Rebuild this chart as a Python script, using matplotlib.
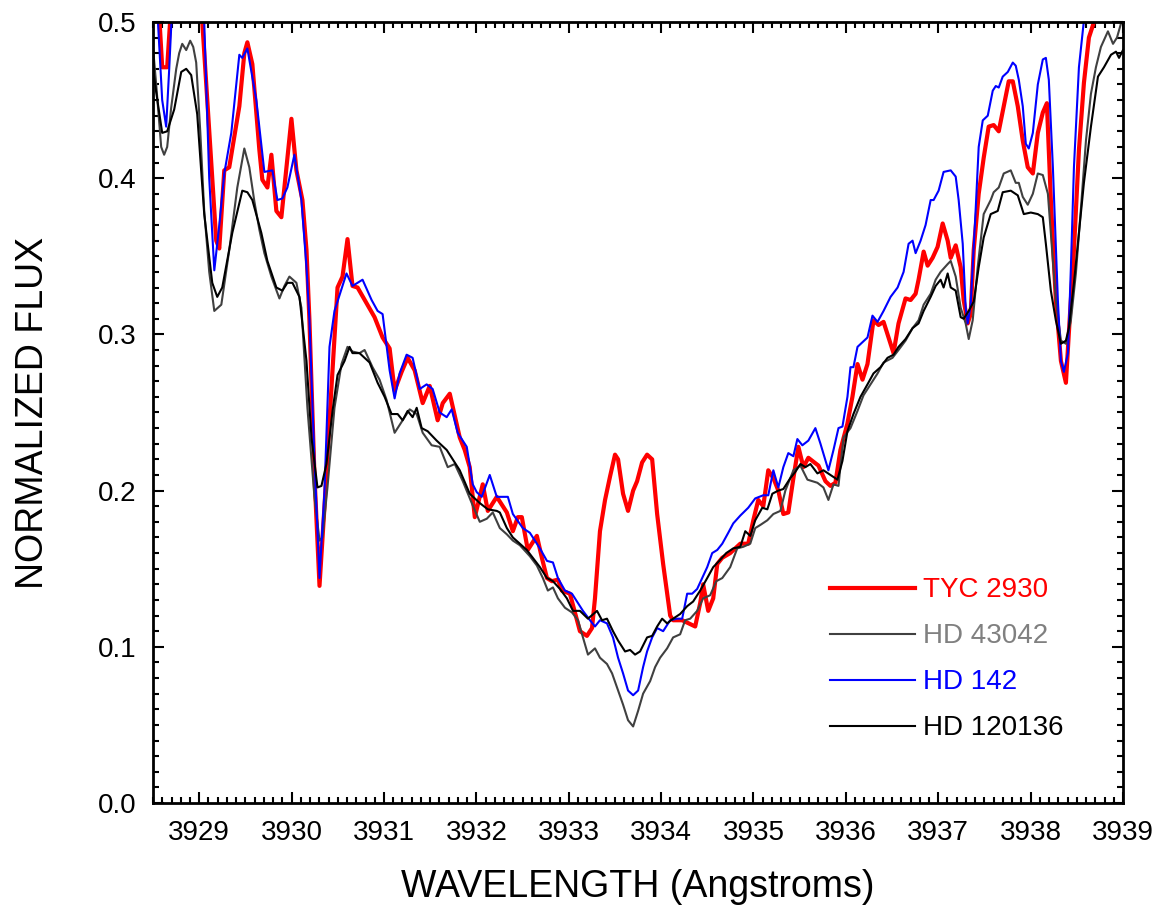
import matplotlib
matplotlib.use("Agg")
import matplotlib.pyplot as plt
from matplotlib.ticker import MultipleLocator, FormatStrFormatter

plt.rcParams["font.family"] = ["Liberation Sans", "DejaVu Sans"]

# TYC 2930 (red)
wl_tyc = [3928.490, 3928.566, 3928.599, 3928.653, 3928.696, 3928.740, 3928.837, 3929.000, 3929.033,
          3929.184, 3929.217, 3929.271, 3929.325, 3929.434, 3929.488, 3929.521, 3929.575, 3929.651,
          3929.683, 3929.738, 3929.781, 3929.835, 3929.889, 3929.944, 3929.998, 3930.052, 3930.117,
          3930.161, 3930.193, 3930.247, 3930.302, 3930.356, 3930.410, 3930.497, 3930.551, 3930.605,
          3930.659, 3930.714, 3930.811, 3930.898, 3930.985, 3931.061, 3931.115, 3931.191, 3931.256,
          3931.332, 3931.419, 3931.495, 3931.581, 3931.636, 3931.712, 3931.820, 3931.874, 3931.928,
          3931.983, 3932.069, 3932.124, 3932.221, 3932.330, 3932.395, 3932.449, 3932.492, 3932.557,
          3932.655, 3932.709, 3932.764, 3932.818, 3932.883, 3932.926, 3933.013, 3933.121, 3933.197,
          3933.252, 3933.284, 3933.338, 3933.393, 3933.447, 3933.501, 3933.534, 3933.588, 3933.642,
          3933.697, 3933.740, 3933.794, 3933.848, 3933.903, 3933.957, 3934.022, 3934.098, 3934.130,
          3934.228, 3934.369, 3934.423, 3934.455, 3934.510, 3934.564, 3934.608, 3934.662, 3934.748,
          3934.857, 3934.943, 3934.998, 3935.052, 3935.106, 3935.160, 3935.215, 3935.269, 3935.323,
          3935.377, 3935.432, 3935.486, 3935.540, 3935.594, 3935.703, 3935.779, 3935.833, 3935.887,
          3935.941, 3936.017, 3936.071, 3936.126, 3936.180, 3936.234, 3936.299, 3936.354, 3936.408,
          3936.462, 3936.516, 3936.570, 3936.646, 3936.701, 3936.755, 3936.787, 3936.842, 3936.885,
          3936.939, 3936.993, 3937.048, 3937.102, 3937.135, 3937.189, 3937.243, 3937.275, 3937.319,
          3937.351, 3937.384, 3937.438, 3937.492, 3937.546, 3937.600, 3937.655, 3937.709, 3937.763,
          3937.807, 3937.861, 3937.915, 3937.969, 3938.024, 3938.078, 3938.132, 3938.176, 3938.219,
          3938.273, 3938.328, 3938.382, 3938.414, 3938.469, 3938.523, 3938.577, 3938.631, 3938.686,
          3938.761, 3938.870, 3939.011]
fx_tyc = [0.56, 0.505, 0.471, 0.471, 0.51, 0.56, 0.58, 0.54, 0.50,
          0.360, 0.355, 0.405, 0.407, 0.446, 0.480, 0.487, 0.473, 0.418,
          0.399, 0.394, 0.415, 0.379, 0.375, 0.407, 0.438, 0.405, 0.386,
          0.354, 0.309, 0.210, 0.139, 0.190, 0.245, 0.330, 0.337, 0.361,
          0.331, 0.330, 0.320, 0.311, 0.298, 0.291, 0.264, 0.276, 0.285,
          0.277, 0.256, 0.267, 0.245, 0.256, 0.262, 0.234, 0.226, 0.215,
          0.183, 0.204, 0.187, 0.196, 0.186, 0.174, 0.183, 0.183, 0.162,
          0.171, 0.157, 0.144, 0.142, 0.143, 0.136, 0.134, 0.110, 0.107,
          0.112, 0.131, 0.174, 0.194, 0.209, 0.223, 0.220, 0.198, 0.187,
          0.200, 0.206, 0.218, 0.223, 0.220, 0.185, 0.153, 0.120, 0.117,
          0.117, 0.113, 0.128, 0.140, 0.123, 0.131, 0.153, 0.157, 0.160,
          0.166, 0.166, 0.181, 0.194, 0.190, 0.213, 0.208, 0.200, 0.185,
          0.186, 0.208, 0.228, 0.215, 0.221, 0.216, 0.206, 0.203, 0.205,
          0.226, 0.243, 0.260, 0.281, 0.271, 0.281, 0.309, 0.306, 0.308,
          0.298, 0.288, 0.307, 0.323, 0.322, 0.326, 0.335, 0.353, 0.344,
          0.349, 0.356, 0.371, 0.360, 0.349, 0.357, 0.343, 0.322, 0.307,
          0.313, 0.354, 0.390, 0.413, 0.433, 0.434, 0.430, 0.446, 0.462,
          0.462, 0.446, 0.424, 0.407, 0.403, 0.429, 0.442, 0.448, 0.386,
          0.322, 0.283, 0.269, 0.301, 0.354, 0.418, 0.461, 0.490, 0.500,
          0.53, 0.56, 0.58]

# HD 43042 (grey)
wl_hd43042 = [3928.490, 3928.534, 3928.588, 3928.620, 3928.653, 3928.696, 3928.751, 3928.783, 3928.816,
              3928.859, 3928.902, 3928.935, 3928.967, 3929.011, 3929.054, 3929.108, 3929.163, 3929.239,
              3929.325, 3929.412, 3929.488, 3929.542, 3929.597, 3929.651, 3929.705, 3929.781, 3929.868,
              3929.922, 3929.976, 3930.052, 3930.106, 3930.171, 3930.247, 3930.302, 3930.334, 3930.388,
              3930.464, 3930.540, 3930.605, 3930.659, 3930.735, 3930.790, 3930.876, 3930.952, 3931.028,
              3931.115, 3931.202, 3931.278, 3931.354, 3931.419, 3931.516, 3931.603, 3931.690, 3931.766,
              3931.853, 3931.950, 3932.037, 3932.113, 3932.178, 3932.254, 3932.330, 3932.395, 3932.471,
              3932.579, 3932.655, 3932.720, 3932.774, 3932.829, 3932.883, 3932.959, 3933.035, 3933.100,
              3933.154, 3933.208, 3933.284, 3933.338, 3933.414, 3933.469, 3933.523, 3933.588, 3933.642,
              3933.697, 3933.751, 3933.805, 3933.881, 3933.935, 3933.989, 3934.065, 3934.130, 3934.206,
              3934.260, 3934.315, 3934.390, 3934.455, 3934.531, 3934.597, 3934.662, 3934.748, 3934.824,
              3934.889, 3934.965, 3935.019, 3935.074, 3935.150, 3935.215, 3935.291, 3935.345, 3935.432,
              3935.508, 3935.584, 3935.692, 3935.757, 3935.811, 3935.866, 3935.920, 3935.974, 3936.050,
              3936.126, 3936.191, 3936.267, 3936.343, 3936.408, 3936.505, 3936.570, 3936.646, 3936.722,
              3936.787, 3936.842, 3936.918, 3936.972, 3937.026, 3937.102, 3937.135, 3937.189, 3937.243,
              3937.297, 3937.330, 3937.373, 3937.427, 3937.492, 3937.568, 3937.600, 3937.655, 3937.709,
              3937.785, 3937.839, 3937.872, 3937.915, 3937.969, 3938.024, 3938.078, 3938.132, 3938.187,
              3938.219, 3938.273, 3938.328, 3938.382, 3938.436, 3938.490, 3938.545, 3938.599, 3938.653,
              3938.707, 3938.761, 3938.837, 3938.892, 3938.935, 3938.978, 3939.011]
fx_hd43042 = [0.490, 0.460, 0.420, 0.415, 0.420, 0.445, 0.470, 0.480, 0.486,
              0.482, 0.488, 0.484, 0.474, 0.430, 0.379, 0.340, 0.315, 0.319,
              0.354, 0.394, 0.419, 0.407, 0.385, 0.367, 0.352, 0.337, 0.323,
              0.331, 0.337, 0.333, 0.317, 0.253, 0.196, 0.168, 0.170, 0.202,
              0.253, 0.281, 0.292, 0.289, 0.288, 0.290, 0.279, 0.271, 0.258,
              0.237, 0.245, 0.252, 0.249, 0.237, 0.229, 0.228, 0.215, 0.217,
              0.206, 0.192, 0.180, 0.182, 0.186, 0.176, 0.172, 0.168, 0.165,
              0.158, 0.152, 0.144, 0.136, 0.138, 0.131, 0.125, 0.122, 0.117,
              0.106, 0.095, 0.099, 0.093, 0.089, 0.083, 0.074, 0.063, 0.053,
              0.049, 0.059, 0.070, 0.078, 0.087, 0.093, 0.099, 0.106, 0.108,
              0.117, 0.118, 0.123, 0.131, 0.133, 0.142, 0.144, 0.151, 0.163,
              0.164, 0.166, 0.176, 0.178, 0.181, 0.185, 0.187, 0.200, 0.213,
              0.216, 0.207, 0.205, 0.202, 0.194, 0.204, 0.203, 0.234, 0.240,
              0.251, 0.261, 0.268, 0.275, 0.282, 0.285, 0.290, 0.296, 0.304,
              0.309, 0.319, 0.326, 0.335, 0.340, 0.345, 0.347, 0.337, 0.317,
              0.307, 0.297, 0.309, 0.343, 0.377, 0.386, 0.391, 0.394, 0.403,
              0.405, 0.397, 0.397, 0.388, 0.383, 0.390, 0.403, 0.402, 0.390,
              0.365, 0.322, 0.296, 0.294, 0.309, 0.339, 0.381, 0.424, 0.454,
              0.471, 0.484, 0.494, 0.486, 0.490, 0.499, 0.500]

# HD 142 (blue)
wl_hd142 = [3928.490, 3928.544, 3928.599, 3928.642, 3928.675, 3928.707, 3928.761, 3928.892, 3929.033,
            3929.054, 3929.108, 3929.163, 3929.217, 3929.271, 3929.347, 3929.434, 3929.466, 3929.521,
            3929.618, 3929.705, 3929.792, 3929.846, 3929.900, 3929.954, 3930.030, 3930.106, 3930.161,
            3930.193, 3930.247, 3930.302, 3930.356, 3930.410, 3930.464, 3930.594, 3930.659, 3930.768,
            3930.866, 3930.931, 3930.985, 3931.061, 3931.115, 3931.169, 3931.245, 3931.310, 3931.386,
            3931.462, 3931.527, 3931.603, 3931.679, 3931.733, 3931.798, 3931.896, 3931.961, 3932.004,
            3932.058, 3932.145, 3932.221, 3932.286, 3932.341, 3932.395, 3932.503, 3932.579, 3932.655,
            3932.688, 3932.764, 3932.829, 3932.883, 3932.959, 3933.035, 3933.100, 3933.154, 3933.230,
            3933.284, 3933.338, 3933.414, 3933.479, 3933.534, 3933.588, 3933.642, 3933.697, 3933.751,
            3933.805, 3933.848, 3933.903, 3933.957, 3934.022, 3934.098, 3934.174, 3934.228, 3934.282,
            3934.336, 3934.390, 3934.445, 3934.499, 3934.553, 3934.608, 3934.662, 3934.727, 3934.781,
            3934.857, 3934.943, 3935.019, 3935.106, 3935.160, 3935.215, 3935.269, 3935.323, 3935.377,
            3935.432, 3935.475, 3935.529, 3935.594, 3935.670, 3935.725, 3935.811, 3935.866, 3935.920,
            3935.963, 3936.017, 3936.050, 3936.082, 3936.126, 3936.180, 3936.234, 3936.288, 3936.343,
            3936.408, 3936.484, 3936.560, 3936.625, 3936.679, 3936.722, 3936.755, 3936.809, 3936.863,
            3936.918, 3936.950, 3937.004, 3937.058, 3937.135, 3937.189, 3937.221, 3937.265, 3937.297,
            3937.319, 3937.351, 3937.406, 3937.438, 3937.482, 3937.536, 3937.590, 3937.623, 3937.655,
            3937.698, 3937.753, 3937.807, 3937.839, 3937.872, 3937.915, 3937.948, 3937.980, 3938.024,
            3938.078, 3938.132, 3938.165, 3938.197, 3938.241, 3938.295, 3938.328, 3938.360, 3938.404,
            3938.436, 3938.469, 3938.523, 3938.577, 3938.653, 3938.761, 3939.011]
fx_hd142 = [0.56, 0.51, 0.45, 0.433, 0.47, 0.51, 0.56, 0.58, 0.52,
            0.50, 0.40, 0.341, 0.370, 0.403, 0.429, 0.479, 0.477, 0.483,
            0.450, 0.404, 0.405, 0.386, 0.387, 0.394, 0.415, 0.386, 0.343,
            0.309, 0.220, 0.144, 0.200, 0.292, 0.315, 0.339, 0.331, 0.335,
            0.322, 0.315, 0.313, 0.277, 0.259, 0.275, 0.287, 0.285, 0.265,
            0.268, 0.265, 0.250, 0.247, 0.252, 0.237, 0.228, 0.204, 0.199,
            0.196, 0.210, 0.196, 0.196, 0.196, 0.185, 0.176, 0.173, 0.166,
            0.163, 0.155, 0.154, 0.144, 0.136, 0.134, 0.128, 0.123, 0.117,
            0.113, 0.117, 0.115, 0.106, 0.093, 0.083, 0.072, 0.069, 0.072,
            0.087, 0.097, 0.106, 0.112, 0.110, 0.117, 0.118, 0.118, 0.134,
            0.134, 0.137, 0.144, 0.151, 0.160, 0.162, 0.166, 0.173, 0.179,
            0.184, 0.189, 0.195, 0.197, 0.197, 0.213, 0.202, 0.215, 0.224,
            0.222, 0.233, 0.229, 0.232, 0.240, 0.230, 0.213, 0.226, 0.240,
            0.241, 0.260, 0.279, 0.279, 0.292, 0.295, 0.298, 0.312, 0.308,
            0.315, 0.324, 0.330, 0.340, 0.358, 0.360, 0.352, 0.360, 0.370,
            0.386, 0.386, 0.392, 0.404, 0.405, 0.401, 0.386, 0.358, 0.317,
            0.307, 0.319, 0.381, 0.420, 0.437, 0.440, 0.456, 0.459, 0.458,
            0.465, 0.468, 0.474, 0.472, 0.463, 0.446, 0.422, 0.419, 0.429,
            0.460, 0.476, 0.477, 0.463, 0.407, 0.322, 0.283, 0.276, 0.288,
            0.343, 0.407, 0.471, 0.501, 0.54, 0.57, 0.60]

# HD 120136 (black)
wl_hd120136 = [3928.490, 3928.534, 3928.599, 3928.653, 3928.729, 3928.805, 3928.859, 3928.913, 3928.978,
               3929.054, 3929.141, 3929.195, 3929.249, 3929.358, 3929.466, 3929.521, 3929.575, 3929.672,
               3929.738, 3929.835, 3929.900, 3929.954, 3930.009, 3930.085, 3930.161, 3930.215, 3930.280,
               3930.323, 3930.377, 3930.443, 3930.497, 3930.573, 3930.627, 3930.659, 3930.735, 3930.790,
               3930.844, 3930.931, 3931.007, 3931.082, 3931.148, 3931.202, 3931.256, 3931.310, 3931.354,
               3931.408, 3931.473, 3931.570, 3931.679, 3931.744, 3931.820, 3931.928, 3932.037, 3932.124,
               3932.221, 3932.254, 3932.330, 3932.395, 3932.471, 3932.546, 3932.611, 3932.688, 3932.764,
               3932.829, 3932.905, 3932.980, 3933.046, 3933.121, 3933.208, 3933.306, 3933.360, 3933.414,
               3933.479, 3933.534, 3933.610, 3933.664, 3933.718, 3933.772, 3933.848, 3933.903, 3933.957,
               3934.011, 3934.065, 3934.130, 3934.206, 3934.282, 3934.347, 3934.423, 3934.499, 3934.564,
               3934.629, 3934.705, 3934.781, 3934.857, 3934.911, 3934.965, 3935.019, 3935.095, 3935.150,
               3935.204, 3935.269, 3935.323, 3935.399, 3935.453, 3935.508, 3935.562, 3935.616, 3935.692,
               3935.757, 3935.833, 3935.909, 3935.963, 3936.017, 3936.082, 3936.158, 3936.234, 3936.299,
               3936.375, 3936.451, 3936.516, 3936.570, 3936.646, 3936.722, 3936.787, 3936.842, 3936.918,
               3936.972, 3937.026, 3937.058, 3937.102, 3937.135, 3937.189, 3937.243, 3937.275, 3937.330,
               3937.384, 3937.438, 3937.492, 3937.568, 3937.644, 3937.698, 3937.785, 3937.861, 3937.926,
               3938.002, 3938.078, 3938.132, 3938.165, 3938.219, 3938.273, 3938.328, 3938.382, 3938.414,
               3938.469, 3938.523, 3938.577, 3938.653, 3938.729, 3938.794, 3938.870, 3938.924, 3938.957,
               3939.000]
fx_hd120136 = [0.475, 0.455, 0.429, 0.430, 0.444, 0.468, 0.470, 0.466, 0.441,
               0.377, 0.333, 0.324, 0.330, 0.365, 0.392, 0.391, 0.386, 0.365,
               0.347, 0.330, 0.328, 0.333, 0.333, 0.324, 0.283, 0.234, 0.202,
               0.203, 0.217, 0.251, 0.274, 0.283, 0.292, 0.288, 0.288, 0.285,
               0.282, 0.269, 0.260, 0.249, 0.249, 0.245, 0.251, 0.247, 0.253,
               0.240, 0.238, 0.232, 0.226, 0.220, 0.213, 0.198, 0.192, 0.188,
               0.187, 0.186, 0.176, 0.170, 0.166, 0.162, 0.157, 0.151, 0.144,
               0.142, 0.137, 0.131, 0.123, 0.123, 0.118, 0.123, 0.117, 0.118,
               0.110, 0.104, 0.097, 0.098, 0.095, 0.097, 0.106, 0.107, 0.113,
               0.118, 0.115, 0.118, 0.121, 0.126, 0.129, 0.136, 0.144, 0.151,
               0.155, 0.160, 0.163, 0.164, 0.174, 0.171, 0.181, 0.189, 0.188,
               0.198, 0.200, 0.201, 0.208, 0.212, 0.217, 0.215, 0.217, 0.211,
               0.213, 0.210, 0.207, 0.219, 0.238, 0.249, 0.260, 0.268, 0.275,
               0.279, 0.285, 0.287, 0.292, 0.297, 0.304, 0.307, 0.315, 0.324,
               0.331, 0.335, 0.330, 0.339, 0.330, 0.328, 0.311, 0.310, 0.315,
               0.321, 0.343, 0.362, 0.377, 0.379, 0.391, 0.392, 0.389, 0.377,
               0.378, 0.377, 0.375, 0.358, 0.328, 0.309, 0.294, 0.296, 0.304,
               0.333, 0.365, 0.397, 0.433, 0.465, 0.471, 0.479, 0.481, 0.477,
               0.482]

etiket = ["TYC 2930", "HD 43042", "HD 142", "HD 120136"]
warna_garis = ["#ff0000", "#404040", "#0000ff", "#000000"]
warna_teks = ["#ff0000", "#808080", "#0000ff", "#000000"]
tebal = [3.0, 1.5, 1.5, 1.5]

fig = plt.figure(figsize=(11.63, 9.15), dpi=100)
ax = fig.add_axes([0.1316, 0.1224, 0.834, 0.8536])

data = [(wl_tyc, fx_tyc), (wl_hd43042, fx_hd43042), (wl_hd142, fx_hd142), (wl_hd120136, fx_hd120136)]
for (wl, fx), lab, c, lw in zip(data, etiket, warna_garis, tebal):
    ax.plot(wl, fx, color=c, lw=lw, label=lab)

ax.set_xlim(3928.5, 3939.0)
ax.set_ylim(0.0, 0.5)
ax.xaxis.set_major_locator(MultipleLocator(1))
ax.xaxis.set_minor_locator(MultipleLocator(0.1))
ax.yaxis.set_major_locator(MultipleLocator(0.1))
ax.yaxis.set_minor_locator(MultipleLocator(0.01))
ax.yaxis.set_major_formatter(FormatStrFormatter("%.1f"))
ax.xaxis.set_major_formatter(FormatStrFormatter("%d"))

ax.tick_params(which="both", direction="in", top=True, right=True, width=1.5)
ax.tick_params(which="major", length=8, labelsize=20, pad=12)
ax.tick_params(which="minor", length=4)
for s in ax.spines.values():
    s.set_linewidth(2)

ax.set_xlabel("WAVELENGTH (Angstroms)", fontsize=27, labelpad=17)
ax.set_ylabel("NORMALIZED FLUX", fontsize=27, labelpad=34)

leg = ax.legend(loc="upper left", bbox_to_anchor=(0.7137, 0.369), bbox_transform=fig.transFigure,
                frameon=False, fontsize=20, handlelength=3.05, handletextpad=0.3,
                labelspacing=0.72, borderpad=0, borderaxespad=0)
for t, c in zip(leg.get_texts(), warna_teks):
    t.set_color(c)

fig.savefig("out.png", dpi=100)
